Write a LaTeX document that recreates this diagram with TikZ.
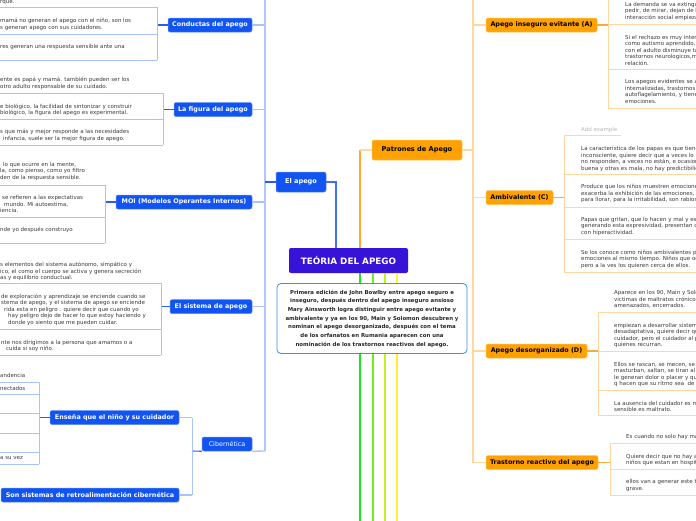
\documentclass[tikz,border=0pt]{standalone}
\usepackage{fontspec}
\setmainfont{DejaVu Sans}
\definecolor{bfill}{HTML}{1154F2}
\definecolor{bborder}{HTML}{5F8BF7}
\definecolor{purp}{HTML}{3713D8}
\definecolor{ofill}{HTML}{FFA100}
\definecolor{oborder}{HTML}{FFC35C}
\definecolor{txtc}{HTML}{3A3A3A}
\definecolor{blight}{HTML}{A8C2FC}
\definecolor{bmain}{HTML}{B0C8FD}
\definecolor{bdark}{HTML}{2A5EEA}
\definecolor{bmid}{HTML}{3F70F0}
\definecolor{olight}{HTML}{FFD8A0}
\definecolor{odark}{HTML}{FFA833}
\definecolor{descb}{HTML}{3D8FE0}
\definecolor{gA}{HTML}{1EE61E}
\definecolor{gB}{HTML}{6EEE1A}
\definecolor{gC}{HTML}{C4F020}
\definecolor{gD}{HTML}{FFEE33}
\begin{document}
\begin{tikzpicture}[x=1pt,y=-1pt,
  bnode/.style={fill=bfill,draw=bborder,line width=0.5pt,rounded corners=2pt,text=white,font=\bfseries\fontsize{6.4}{7.5}\selectfont,inner sep=0pt,minimum height=14pt},
  onode/.style={fill=ofill,draw=oborder,line width=0.5pt,rounded corners=2pt,text=black,font=\bfseries\fontsize{6.4}{7.5}\selectfont,inner sep=0pt,minimum height=14pt},
  ctx/.style={anchor=north west,inner sep=0pt,align=left,text=txtc,font=\fontsize{5.5}{6.5}\selectfont,execute at begin node=\strut},
  bul/.style={draw=blight,line width=0.8pt},
  bcon/.style={draw=bdark,line width=1.1pt},
  oul/.style={draw=olight,line width=0.8pt},
  ocon/.style={draw=odark,line width=1.1pt}]
\useasboundingbox (0,0) rectangle (696,520);
\clip (0,0) rectangle (696,520);
\fill[white] (0,0) rectangle (696,520);

% ---------- root and centre ----------
\node[fill=purp,rounded corners=2pt,minimum width=119pt,minimum height=25pt,text=white,font=\bfseries\fontsize{8.8}{10}\selectfont,inner sep=0pt] (root) at (348.5,260.5) {TEÓRIA DEL APEGO};
\draw[gA,line width=1.8pt] ([xshift=11.5pt]root.south) -- ++(0,260);
\draw[gB,line width=1.8pt] ([xshift=24.5pt]root.south) -- ++(0,260);
\draw[gC,line width=1.8pt] ([xshift=36.5pt]root.south) -- ++(0,260);
\draw[gD,line width=1.8pt] ([xshift=48.5pt]root.south) -- ++(0,260);
\node[draw=descb,line width=0.8pt,rounded corners=4pt,fill=white,minimum width=190pt,minimum height=70pt,align=center,font=\bfseries\fontsize{5.4}{8.67}\selectfont,text=black!85,inner sep=0pt] (desc) at (372,318.5) {Primera edición de John Bowlby entre apego seguro e\\inseguro, después dentro del apego inseguro ansioso\\Mary Ainsworth logra distinguir entre apego evitante y\\ambivalente y ya en los 90, Main y Solomon descubren y\\nominan el apego desorganizado, después con el tema\\de los orfanatos en Rumania aparecen con una\\nominación de los trastornos reactivos del apego.};

% ---------- blue side ----------
\node[bnode,minimum width=50pt,minimum height=20pt,font=\bfseries\fontsize{6.6}{7.5}\selectfont] (apego) at (301,182) {El apego};
\node[bnode,minimum width=84pt] (cond) at (210,25) {Conductas del apego};
\node[bnode,minimum width=78pt] (fig) at (213,109.5) {La figura del apego};
\node[bnode,minimum width=136pt] (moi) at (184,202) {MOI (Modelos Operantes Internos)};
\node[bnode,minimum width=82pt] (sis) at (211,306.7) {El sistema de apego};
\node[bnode,minimum width=50pt,font=\fontsize{6.4}{7.5}\selectfont] (cib) at (227,444) {Cibernética};
\node[bnode,minimum width=129pt] (ens) at (114.5,417.5) {Enseña que el niño y su cuidador};
\node[bnode,minimum width=178pt] (son) at (90,495) {Son sistemas de retroalimentación cibernética};

\coordinate (btop) at (265,-3);
\coordinate (bbot) at (265,451);
\draw[bmain,line width=1.5pt] (btop) -- (bbot);
\draw[bcon,line width=1.5pt] (apego.west) -- (265,182);
\draw[bmid,line width=1.3pt] (apego.east) -| ([xshift=-12.5pt]root.north);
\draw[blight,line width=1.3pt] (cond.east) -- (265,25);
\draw[blight,line width=1.3pt] (fig.east) -- (265,109.5);
\draw[blight,line width=1.3pt] (moi.east) -- (265,202);
\draw[blight,line width=1.3pt] (sis.east) -- (265,306.7);
\draw[blight,line width=1.3pt] (cib.south east) -- (bbot);

% Conductas children
\draw[bcon] (cond.west) -- (157,25);
\draw[bul] (157,7) -- (157,60);
\foreach \yy in {7,34,60} \draw[bul] (0,\yy) -- (157,\yy);
\node[ctx] (c1) at (0,-1) {rque.};
\node[ctx] (c2) at (0,18) {mamá no generan el apego con el niño, son los\\s generan apego con sus cuidadores.};
\node[ctx] (c3) at (0,44) {res generan una respuesta sensible ante una};

% La figura children
\draw[bcon] (fig.west) -- (163,109.5);
\draw[bul] (163,93) -- (163,145);
\foreach \yy in {93,119,145} \draw[bul] (0,\yy) -- (163,\yy);
\node[ctx] (f1) at (0,77) {ente es papá y mamá. también pueden ser los\\otro adulto responsable de su cuidado.};
\node[ctx] (f2) at (0,103.7) {e biológico, la facilidad de sintonizar y construir\\biológico, la figura del apego es experimental.};
\node[ctx] (f3) at (0,129.3) {s que más y mejor responde a las necesidades\\\hspace*{3pt}infancia, suele ser la mejor figura de apego.};

% MOI children
\draw[bcon] (moi.west) -- (105,202);
\draw[bul] (105,185) -- (105,243);
\foreach \yy in {185,217,243} \draw[bul] (0,\yy) -- (105,\yy);
\node[ctx] (m1) at (0,162) {\hspace*{3pt}lo que ocurre en la mente,\\la, como pienso, como yo filtro\\den de la respuesta sensible.};
\node[ctx] (m2) at (0,195.3) {\hspace*{2pt}se refieren a las expectativas\\\hspace*{4pt}mundo. Mi autoestima,\\iencia.};
\node[ctx] (m3) at (0,227) {nde yo después construyo};

% Sistema children
\draw[bcon] (sis.west) -- (161,306.7);
\draw[bul] (161,283) -- (161,355);
\foreach \yy in {283,329,355} \draw[bul] (0,\yy) -- (161,\yy);
\node[ctx] (s1) at (0,262) {s elementos del sistema autónomo, simpático y\\ico, el como el cuerpo se activa y genera secreción\\as y equilibrio conductual.};
\node[ctx] (s2) at (0,293.7) {\hspace*{1pt}de exploración y aprendizaje se enciende cuando se\\\hspace*{1pt}stema de apego, y el sistema de apego se enciende\\\hspace*{4pt}rida esta en peligro . quiere decir que cuando yo\\\hspace*{8pt}hay peligro dejo de hacer lo que estoy haciendo y\\\hspace*{8pt}donde yo siento que me pueden cuidar.};
\node[ctx] (s3) at (0,339.7) {\hspace*{1pt}nte nos dirigimos a la persona que amamos o a\\\hspace*{6pt}cuida si soy niño.};

% Cibernetica children
\draw[bcon] (cib.south west) -- (192,451);
\draw[bul] (192,417.5) -- (192,495);
\draw[blight,line width=1.1pt] (ens.east) -- (192,417.5);
\draw[blight,line width=1.1pt] (son.east) -- (192,495);
\draw[bcon] (ens.west) -- (39,417.5);
\draw[bul] (39,382) -- (39,464);
\foreach \yy in {382,394,413,433,452,464} \draw[bul] (0,\yy) -- (39,\yy);
\node[ctx] (e1) at (0,373) {andencia};
\node[ctx] (e2) at (0,386) {nectados};
\node[ctx] (e3) at (0,455) {a su vez};

% ---------- orange side ----------
\node[onode,minimum width=90pt,minimum height=20pt,font=\bfseries\fontsize{6.6}{7.5}\selectfont] (patr) at (417,150) {Patrones de Apego};
\node[onode,minimum width=111pt] (pa) at (541.5,25) {Apego inseguro evitante (A)};
\node[onode,minimum width=67pt] (pc) at (519.5,197.5) {Ambivalente (C)};
\node[onode,minimum width=101pt] (pd) at (536.5,351) {Apego desorganizado (D)};
\node[onode,minimum width=112pt] (pt) at (542,462.5) {Trastorno reactivo del apego};

\coordinate (pj) at (360,150);
\draw[odark,line width=1.5pt] ([xshift=11.5pt]root.north) -- (pj);
\draw[olight,line width=1.5pt] (pj) -- (patr.west);
\draw[olight,line width=1.5pt] (patr.east) -- (473,150);
\coordinate (otop) at (473,-3);
\coordinate (obot) at (473,462.5);
\draw[olight,line width=1.5pt] (otop) -- (obot);
\draw[olight,line width=1.3pt] (473,25) -- (pa.west);
\draw[olight,line width=1.3pt] (473,197.5) -- (pc.west);
\draw[olight,line width=1.3pt] (473,351) -- (pd.west);
\draw[olight,line width=1.3pt] (obot) -- (pt.west);

% A children
\draw[ocon] (pa.east) -- (608,25);
\draw[oul] (608,-3) -- (608,108);
\foreach \yy in {24,69,108} \draw[oul] (608,\yy) -- (696,\yy);
\node[ctx] (a1) at (625,2) {La demanda se va extinguiendo\\pedir, de mirar, dejan de llorar\\interacción social empieza a};
\node[ctx] (a2) at (625,34.7) {Si el rechazo es muy intenso\\como autismo aprendido, la\\con el adulto disminuye tanto\\trastornos neurologicos,más\\relación.};
\node[ctx] (a3) at (625,79.3) {Los apegos evidentes se asocian\\internalizadas, trastornos de\\autoflagelamiento, y tienen\\emociones.};

% C children
\draw[ocon] (pc.east) -- (564,197.5);
\draw[oul] (564,135) -- (564,272);
\draw[oul] (564,135) -- (621,135);
\foreach \yy in {174,207,239,272} \draw[oul] (564,\yy) -- (696,\yy);
\node[ctx,text=black!28] (c0) at (581,127) {Add example};
\node[ctx] (cc1) at (581,146) {La característica de los papas es que tienen\\inconsciente, quiere decir que a veces lo hacen\\no responden, a veces no están, e ocasiones\\buena y otras es mala, no hay predictibilidad};
\node[ctx] (cc2) at (581,184.3) {Produce que los niños muestren emociones\\exacerba la exhibición de las emociones, ...\\para llorar, para la irritabilidad, son rabiosos};
\node[ctx] (cc3) at (581,217) {Papas que gritan, que lo hacen y mal y es\\generando esta expresividad, presentan d\\con hiperactividad.};
\node[ctx] (cc4) at (581,249.7) {Se los conoce como niños ambivalentes por\\emociones al mismo tiempo. Niños que odian\\pero a la ves los quieren cerca de ellos.};

% D children
\draw[ocon] (pd.east) -- (598,351);
\draw[oul] (598,312) -- (598,415);
\foreach \yy in {312,351,390,415} \draw[oul] (598,\yy) -- (696,\yy);
\node[ctx] (d1) at (614,290.3) {Aparece en los 90, Main y Solomon\\victimas de maltratos crónicos\\amenazados, encerrados.};
\node[ctx] (d2) at (614,323) {empiezan a desarrollar sistemas\\desadaptativa, quiere decir que\\cuidador, pero el cuidador al parecer\\quienes recurran.};
\node[ctx] (d3) at (614,362) {Ellos se rascan, se mecen, se\\masturban, saltan, se tiran al\\le generan dolor o placer y que\\q hacen que su ritmo sea\ \ de};
\node[ctx] (d4) at (614,401) {La ausencia del cuidador es maltrato\\sensible es maltrato.};

% T children
\draw[ocon] (pt.east) -- (610,462.5);
\draw[oul] (610,443) -- (610,495);
\foreach \yy in {443,469,495} \draw[oul] (610,\yy) -- (696,\yy);
\node[ctx] (t1) at (626,433.7) {Es cuando no solo hay maltrato};
\node[ctx] (t2) at (626,453.7) {Quiere decir que no hay apego\\niños que estan en hospitales};
\node[ctx] (t3) at (626,479.3) {ellos van a generar este trastorno\\grave.};
\end{tikzpicture}
\end{document}
